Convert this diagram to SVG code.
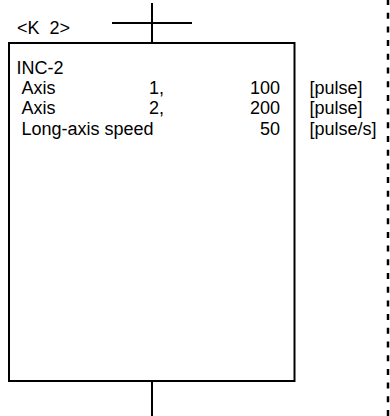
<svg xmlns="http://www.w3.org/2000/svg" width="390" height="416" viewBox="0 0 390 416">
<style>
.t{font-family:"Liberation Sans",Arial,sans-serif;font-size:18px;fill:#000}
.r{text-anchor:end}
.ln{stroke:#000;stroke-width:2;fill:none}
</style>
<rect width="390" height="416" fill="#fff"/>
<g id="connectors">
<line class="ln" x1="152" y1="3" x2="152" y2="43"/>
<line class="ln" x1="112" y1="23" x2="192" y2="23"/>
<line class="ln" x1="152" y1="381" x2="152" y2="416"/>
<line x1="388" y1="0" x2="388" y2="416" stroke="#000" stroke-width="2.5" stroke-dasharray="6 7.7" stroke-dashoffset="1"/>
</g>
<g id="label-k2">
<text class="t" x="17" y="33.5" xml:space="preserve">&lt;K  2&gt;</text>
</g>
<g id="inc2-box">
<rect class="ln" x="9" y="43" width="285.5" height="338"/>
<text class="t" x="16.5" y="73.5">INC-2</text>
<text class="t" x="21.5" y="94">Axis</text>
<text class="t" x="149" y="94">1,</text>
<text class="t r" x="280" y="94">100</text>
<text class="t" x="21.5" y="114">Axis</text>
<text class="t" x="149" y="114">2,</text>
<text class="t r" x="280" y="114">200</text>
<text class="t" x="21.5" y="134.5">Long-axis speed</text>
<text class="t r" x="280" y="134.5">50</text>
<text class="t" x="309.5" y="94">[pulse]</text>
<text class="t" x="309.5" y="114">[pulse]</text>
<text class="t" x="309.5" y="134.5">[pulse/s]</text>
</g>
</svg>
